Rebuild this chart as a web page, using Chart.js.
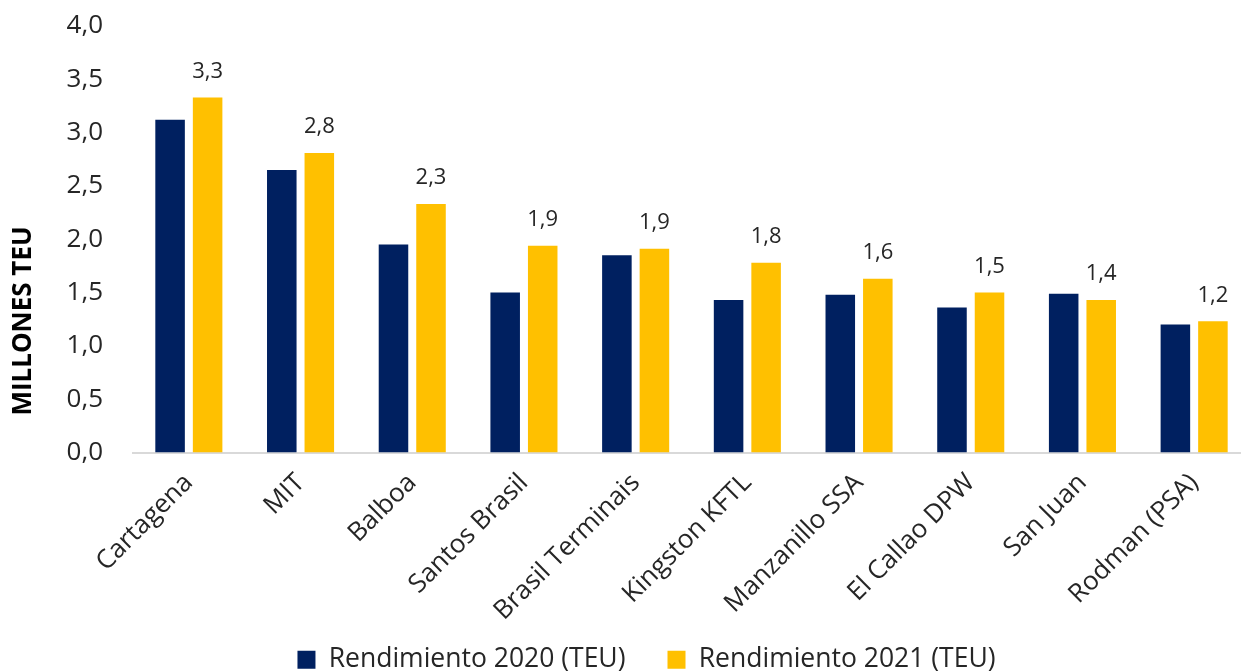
<!DOCTYPE html>
<html lang="es">
<head>
  <meta charset="UTF-8">
  <title>Rendimiento de terminales</title>
  <script src="https://cdn.jsdelivr.net/npm/chart.js"></script>
  <style>
    html, body { margin: 0; padding: 0; background: #fff; overflow: hidden; }
    #wrap { position: absolute; left: 0; top: 0; width: 1250px; height: 701px; }
  </style>
</head>
<body>
  <div id="wrap"><canvas id="chart" width="1250" height="701"></canvas></div>

  <script>
    const categories = ['Cartagena', 'MIT', 'Balboa', 'Santos Brasil', 'Brasil Terminais',
      'Kingston KFTL', 'Manzanillo SSA', 'El Callao DPW', 'San Juan', 'Rodman (PSA)'];
    const teu2020 = [3.12, 2.65, 1.95, 1.50, 1.85, 1.43, 1.48, 1.36, 1.49, 1.20];
    const teu2021 = [3.33, 2.81, 2.33, 1.94, 1.91, 1.78, 1.63, 1.50, 1.43, 1.23];
    const yTicks = [0, 0.5, 1, 1.5, 2, 2.5, 3, 3.5, 4];

    const FONT = "'Open Sans', sans-serif";
    const TEXT = '#262626';
    const fmt = v => v.toFixed(1).replace('.', ',');

    // value labels above the 2021 bars
    const valueLabels = {
      id: 'valueLabels',
      afterDatasetsDraw(chart) {
        const ctx = chart.ctx;
        const meta = chart.getDatasetMeta(1);
        ctx.save();
        ctx.font = '22px ' + FONT;
        ctx.fillStyle = TEXT;
        ctx.textAlign = 'center';
        ctx.textBaseline = 'middle';
        meta.data.forEach((bar, i) => {
          ctx.fillText(fmt(teu2021[i]), bar.x, bar.y - 26);
        });
        ctx.restore();
      }
    };

    // y axis title, centred lower than the plot area like the original
    const yTitle = {
      id: 'yTitle',
      afterDraw(chart) {
        const ctx = chart.ctx;
        ctx.save();
        ctx.translate(24, 321);
        ctx.rotate(-Math.PI / 2);
        ctx.font = 'bold 26px ' + FONT;
        ctx.fillStyle = '#000';
        ctx.textAlign = 'center';
        ctx.textBaseline = 'middle';
        ctx.fillText('MILLONES TEU', 0, 0);
        ctx.restore();
      }
    };

    // x labels need room below the axis, so pull the legend back up a bit
    const legendShift = {
      id: 'legendShift',
      afterLayout(chart) {
        chart.legend.top -= 18;
        chart.legend.bottom -= 18;
      }
    };

    new Chart(document.getElementById('chart'), {
      type: 'bar',
      data: {
        labels: categories,
        datasets: [
          { label: 'Rendimiento 2020 (TEU)', data: teu2020, backgroundColor: '#002060' },
          { label: 'Rendimiento 2021 (TEU)', data: teu2021, backgroundColor: '#FFC000' }
        ]
      },
      options: {
        responsive: false,
        animation: false,
        events: [],
        layout: { padding: { top: 26, left: 43, right: 0, bottom: 0 } },
        datasets: { bar: { categoryPercentage: 0.672, barPercentage: 0.787 } },
        plugins: {
          tooltip: { enabled: false },
          legend: {
            position: 'bottom',
            labels: {
              boxWidth: 18, boxHeight: 18, padding: 42,
              color: TEXT, font: { family: FONT, size: 26.5 }
            }
          }
        },
        scales: {
          x: {
            grid: { display: false, drawTicks: false },
            border: { color: '#d9d9d9', width: 2 },
            ticks: {
              color: TEXT, font: { family: FONT, size: 26 },
              maxRotation: 45, minRotation: 45, padding: 15, labelOffset: 0
            },
            afterFit: s => { s.height = 170; }
          },
          y: {
            min: 0, max: 4,
            afterBuildTicks: s => { s.ticks = yTicks.map(v => ({ value: v })); },
            grid: { display: false, drawTicks: false },
            border: { display: false },
            ticks: {
              color: TEXT, font: { family: FONT, size: 26 }, padding: 30,
              callback: v => fmt(v)
            },
            afterFit: s => { s.width = 90; s.paddingTop = 0; }
          }
        }
      },
      plugins: [valueLabels, yTitle, legendShift]
    });
  </script>
</body>
</html>
